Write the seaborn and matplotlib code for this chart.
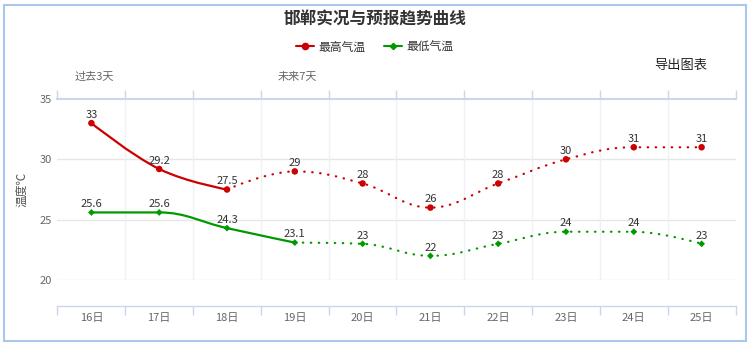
import pandas as pd
import seaborn as sns
import matplotlib
matplotlib.use("Agg")
import matplotlib.pyplot as plt
from matplotlib.path import Path
from matplotlib.patches import PathPatch, Rectangle
from matplotlib.lines import Line2D

# ---- data ----
days = ["16日", "17日", "18日", "19日", "20日", "21日", "22日", "23日", "24日", "25日"]
high_temp = [33, 29.2, 27.5, 29, 28, 26, 28, 30, 31, 31]
low_temp = [25.6, 25.6, 24.3, 23.1, 23, 22, 23, 24, 24, 23]
high_observed = 3   # first 3 days of highs are observations
low_observed = 4    # first 4 days of lows are observations
y_ticks = [20, 25, 30, 35]

RED = "#cc0000"
GREEN = "#009900"

sns.set_theme(style="white")
plt.rcParams["font.family"] = ["Noto Sans CJK SC", "DejaVu Sans"]


def spline_path(xs, ys, smoothing=1.5):
    """Cubic Bezier path through the points (Highcharts-style spline)."""
    n = len(xs)
    denom = smoothing + 1
    left = [(xs[i], ys[i]) for i in range(n)]
    right = [(xs[i], ys[i]) for i in range(n)]
    for i in range(1, n - 1):
        px, py = xs[i], ys[i]
        lx, ly = xs[i - 1], ys[i - 1]
        nx, ny = xs[i + 1], ys[i + 1]
        lcx = (smoothing * px + lx) / denom
        lcy = (smoothing * py + ly) / denom
        rcx = (smoothing * px + nx) / denom
        rcy = (smoothing * py + ny) / denom
        corr = 0.0
        if rcx != lcx:
            corr = (rcy - lcy) * (rcx - px) / (rcx - lcx) + py - rcy
        lcy += corr
        rcy += corr
        if lcy > ly and lcy > py:
            lcy = max(ly, py); rcy = 2 * py - lcy
        elif lcy < ly and lcy < py:
            lcy = min(ly, py); rcy = 2 * py - lcy
        if rcy > ny and rcy > py:
            rcy = max(ny, py); lcy = 2 * py - rcy
        elif rcy < ny and rcy < py:
            rcy = min(ny, py); lcy = 2 * py - rcy
        left[i] = (lcx, lcy)
        right[i] = (rcx, rcy)
    verts = [(xs[0], ys[0])]
    codes = [Path.MOVETO]
    for i in range(1, n):
        verts += [right[i - 1], left[i], (xs[i], ys[i])]
        codes += [Path.CURVE4] * 3
    return Path(verts, codes)


W, H = 750, 343
fig = plt.figure(figsize=(W / 100, H / 100), dpi=100)
fig.patch.set_facecolor("white")

px_left, px_right, px_top, px_bottom = 57.5, 735.5, 99, 280
ax = fig.add_axes([px_left / W, 1 - px_bottom / H,
                   (px_right - px_left) / W, (px_bottom - px_top) / H])
ax.set_facecolor("white")

idx = list(range(len(days)))
ax.set_xlim(-0.5, len(days) - 0.5)
ax.set_ylim(20, 35)

# grid
for yv in y_ticks[:-1]:
    ax.axhline(yv, color="#e6e6e6", lw=1, zorder=0)
for b in [i + 0.5 for i in range(len(days) - 1)]:
    ax.axvline(b, color="#f0f1f7", lw=1, zorder=0)

# smooth curves: solid for observations, dotted for forecast
dot = (0, (0.2, 3.4))
segments = [
    (idx[:high_observed], high_temp[:high_observed], RED, "-"),
    (idx[high_observed - 1:], high_temp[high_observed - 1:], RED, dot),
    (idx[:low_observed], low_temp[:low_observed], GREEN, "-"),
    (idx[low_observed - 1:], low_temp[low_observed - 1:], GREEN, dot),
]
for xs, ys, col, ls in segments:
    patch = PathPatch(spline_path(xs, ys), fill=False, edgecolor=col, lw=1.6,
                      linestyle=ls, capstyle="round", zorder=2)
    ax.add_patch(patch)

# markers
df = pd.DataFrame({
    "day": idx + idx,
    "temp": high_temp + low_temp,
    "series": ["最高气温"] * len(days) + ["最低气温"] * len(days),
})
sns.scatterplot(data=df, x="day", y="temp", hue="series", style="series",
                palette={"最高气温": RED, "最低气温": GREEN},
                markers={"最高气温": "o", "最低气温": "D"},
                size="series", sizes={"最高气温": 22, "最低气温": 12},
                linewidth=0, legend=False, ax=ax, zorder=3, clip_on=False)

# value labels
for xi, v in zip(idx, high_temp):
    ax.annotate(f"{v:g}", (xi, v), xytext=(0, 3.8), textcoords="offset points",
                ha="center", va="baseline", fontsize=8, color="#333333", zorder=4)
for xi, v in zip(idx, low_temp):
    ax.annotate(f"{v:g}", (xi, v), xytext=(0, 3.8), textcoords="offset points",
                ha="center", va="baseline", fontsize=8, color="#333333", zorder=4)

# axes styling
ax.set_yticks(y_ticks)
ax.set_yticklabels([str(t) for t in y_ticks])
ax.set_xticks([i - 0.5 for i in range(len(days) + 1)])
ax.set_xticklabels([])
ax.set_xticks(idx, minor=True)
ax.set_xticklabels(days, minor=True)
ax.tick_params(axis="x", which="major", length=6.2, width=1, color="#ccd6eb",
               direction="out", top=True, bottom=True, labelbottom=False)
ax.tick_params(axis="x", which="minor", length=0, labelbottom=True,
               labelsize=8, labelcolor="#666666", pad=5)
ax.tick_params(axis="y", length=0, labelsize=8, labelcolor="#666666", pad=4)
ax.set_xlabel("")
ax.set_ylabel("温度℃", fontsize=8.5, color="#555555")
ax.yaxis.set_label_coords((28 - px_left) / (px_right - px_left), 0.5)

for s in ("left", "right"):
    ax.spines[s].set_visible(False)
ax.spines["top"].set_color("#ccd6eb")
ax.spines["top"].set_linewidth(1.5)
ax.spines["bottom"].set_color("#ccd6eb")
ax.spines["bottom"].set_linewidth(1)
ax.spines["bottom"].set_position(("outward", 26 * 0.72))

# title, legend and header texts
fig.text(0.5, 1 - 19 / H, "邯郸实况与预报趋势曲线", ha="center", va="center",
         fontsize=12, fontweight="bold", color="#333333")
handles = [
    Line2D([], [], color=RED, lw=1.5, marker="o", markersize=4.5, label="最高气温"),
    Line2D([], [], color=GREEN, lw=1.5, marker="D", markersize=3.2, label="最低气温"),
]
fig.legend(handles=handles, loc="center", bbox_to_anchor=(0.5, 1 - 47 / H),
           ncol=2, frameon=False, fontsize=8.5, handlelength=1.5,
           handletextpad=0.4, columnspacing=1.6, labelcolor="#333333")
fig.text(681 / W, 1 - 65 / H, "导出图表", ha="center", va="center",
         fontsize=9.5, color="#222222")
fig.text(94 / W, 1 - 77 / H, "过去3天", ha="center", va="center",
         fontsize=8, color="#666666")
fig.text(297 / W, 1 - 77 / H, "未来7天", ha="center", va="center",
         fontsize=8, color="#666666")

# outer frame
fig.add_artist(Rectangle((4 / W, 2 / H), 742 / W, 336 / H, transform=fig.transFigure,
                         fill=False, edgecolor="#a8c8ee", lw=1.5))

fig.savefig("out.png", dpi=100, facecolor="white")
